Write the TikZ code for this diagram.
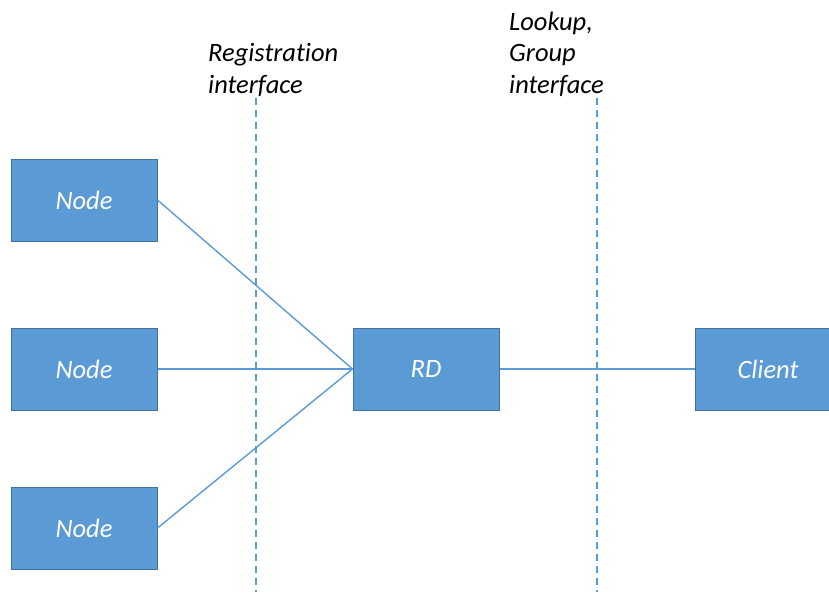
\documentclass[tikz,border=0pt]{standalone}
\usepackage{fontspec}
\setmainfont{Carlito}[Ligatures=NoCommon]
\definecolor{boxfill}{HTML}{5B9BD5}
\definecolor{boxline}{HTML}{41719C}
\tikzstyle{block}=[draw=boxline, fill=boxfill, line width=1pt, minimum width=146pt, minimum height=82pt, inner sep=0pt, text=white, font=\fontsize{26.5}{30}\selectfont\itshape]
\tikzstyle{link}=[draw=boxfill, line width=1.4pt]
\tikzstyle{border}=[draw=boxfill, line width=1.4pt, dash pattern=on 7pt off 5pt]
\tikzstyle{label}=[anchor=base west, inner sep=0pt, align=left, font=\fontsize{26.5}{31.5}\selectfont\itshape]

\begin{document}
\begin{tikzpicture}[x=1pt, y=-1pt]
          \useasboundingbox (0, 0) rectangle (829, 598);
          \node[block] (node1) at (84, 200) {Node};
          \node[block] (node2) at (84, 369) {Node};
          \node[block] (node3) at (84, 528) {Node};
          \node[block] (rd) at (426, 369) {RD};
          \node[block] (client) at (768, 369) {Client};
          \coordinate (regtop) at (256, 98);
          \coordinate (regbot) at (256, 592);
          \coordinate (looktop) at (597, 98);
          \coordinate (lookbot) at (597, 592);
          \draw[border] (regtop) -- (regbot);
          \draw[border] (looktop) -- (lookbot);
          \node[label] (reg) at (208, 93) {Registration\\interface};
          \node[label] (look) at (509, 93) {Lookup,\\Group\\interface};
          \draw[link] (node1.east) -- (rd.west);
          \draw[link] (node2.east) -- (rd.west);
          \draw[link] (node3.east) -- (rd.west);
          \draw[link] (rd.east) -- (client.west);
        \end{tikzpicture}
\end{document}
